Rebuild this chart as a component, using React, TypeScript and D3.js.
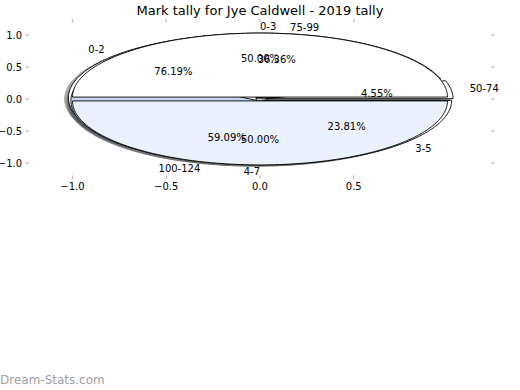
import React from "react";
import * as d3 from "d3";

// ---- data ----
const pie1Labels = ["0-2", "3-5"];
const pie1Values = [76.19, 23.81];
const pie2Labels = ["50-74", "75-99", "100-124"];
const pie2Values = [4.55, 36.36, 59.09];
const pie3Labels = ["0-3", "4-7"];
const pie3Values = [50, 50];
const xTicks = [-1, -0.5, 0, 0.5];
const yTicks = [1, 0.5, 0, -0.5, -1];
const titleText = "Mark tally for Jye Caldwell - 2019 tally";
const watermark = "Dream-Stats.com";

// ---- styles ----
const pie1Colors = ["#ffffff", "#ffffff"];
const pie2Colors = ["#ffffff", "#ffffff", "#c8d8f4"];
const pie3Colors = ["#ffffff", "#eaf0fc"];
const EXPLODE = 0.03;
const SHADOW = -0.02;
const W = 520;
const H = 390;
const FONT = "DejaVu Sans, sans-serif";

const x = d3.scaleLinear().domain([-1.25, 1.25]).range([25.625, 494.375]);
const y = d3.scaleLinear().domain([-1.25, 1.25]).range([179, 19]);

type Wedge = {
  label: string;
  pct: string;
  t1: number;
  t2: number;
  cx: number;
  cy: number;
  mid: number;
  color: string;
};

function buildPie(labels: string[], values: number[], colors: string[]): Wedge[] {
  const total = d3.sum(values);
  let acc = 0;
  return values.map((v, i) => {
    const t1 = (acc / total) * 360;
    acc += v;
    const t2 = (acc / total) * 360;
    const mid = ((t1 + t2) / 2) * (Math.PI / 180);
    return {
      label: labels[i],
      pct: ((v / total) * 100).toFixed(2) + "%",
      t1,
      t2,
      cx: EXPLODE * Math.cos(mid),
      cy: EXPLODE * Math.sin(mid),
      mid,
      color: colors[i],
    };
  });
}

const pies = [
  buildPie(pie1Labels, pie1Values, pie1Colors),
  buildPie(pie2Labels, pie2Values, pie2Colors),
  buildPie(pie3Labels, pie3Values, pie3Colors),
];
const allWedges = pies.flat();

const line = d3
  .line<[number, number]>()
  .x((d) => x(d[0]))
  .y((d) => y(d[1]));

function wedgePath(w: Wedge, dx = 0, dy = 0): string {
  const n = Math.max(8, Math.ceil((w.t2 - w.t1) / 1.5));
  const pts: [number, number][] = [[w.cx + dx, w.cy + dy]];
  for (let k = 0; k <= n; k++) {
    const t = ((w.t1 + ((w.t2 - w.t1) * k) / n) * Math.PI) / 180;
    pts.push([w.cx + dx + Math.cos(t), w.cy + dy + Math.sin(t)]);
  }
  return (line(pts) || "") + "Z";
}

function shade(c: string): string {
  const rgb = d3.rgb(c);
  return d3.rgb(rgb.r * 0.3, rgb.g * 0.3, rgb.b * 0.3).formatHex();
}

const fmt = (v: number) => (v < 0 ? "\u2212" : "") + Math.abs(v).toFixed(1);

export default function App() {
  const tickColor = "#c0c0c0";
  return (
    <svg
      width={W}
      height={H}
      style={{ position: "absolute", left: 0, top: 0, background: "#fff" }}
      fontFamily={FONT}
    >
      {/* ticks (inward, all four sides) */}
      {xTicks.map((t) => (
        <g key={"xt" + t}>
          <line x1={x(t)} x2={x(t)} y1={y(-1.25)} y2={y(-1.25) - 3.5} stroke={tickColor} strokeWidth={1.3} />
          <line x1={x(t)} x2={x(t)} y1={y(1.25)} y2={y(1.25) + 3.5} stroke={tickColor} strokeWidth={1.3} />
          <text x={x(t)} y={y(-1.25) + 11} fontSize={10} textAnchor="middle" fill="#000">
            {fmt(t)}
          </text>
        </g>
      ))}
      {yTicks.map((t) => (
        <g key={"yt" + t}>
          <line x1={x(-1.25)} x2={x(-1.25) + 3.5} y1={y(t)} y2={y(t)} stroke={tickColor} strokeWidth={1.3} />
          <line x1={x(1.25)} x2={x(1.25) - 3.5} y1={y(t)} y2={y(t)} stroke={tickColor} strokeWidth={1.3} />
          <text x={x(-1.25) - 3.5} y={y(t)} dy="0.36em" fontSize={10} textAnchor="end" fill="#000">
            {fmt(t)}
          </text>
        </g>
      ))}

      {/* shadows (drawn beneath all wedges) */}
      {allWedges.map((w, i) => (
        <path
          key={"s" + i}
          d={wedgePath(w, SHADOW, SHADOW)}
          fill={shade(w.color)}
          stroke={shade(w.color)}
          strokeWidth={1}
          opacity={0.5}
        />
      ))}

      {/* wedges */}
      {allWedges.map((w, i) => (
        <path key={"w" + i} d={wedgePath(w)} fill={w.color} stroke="#000" strokeWidth={0.9} />
      ))}

      {/* labels */}
      {allWedges.map((w, i) => {
        const lx = w.cx + 1.1 * Math.cos(w.mid);
        const ly = w.cy + 1.1 * Math.sin(w.mid);
        const px = w.cx + 0.6 * Math.cos(w.mid);
        const py = w.cy + 0.6 * Math.sin(w.mid);
        return (
          <g key={"l" + i}>
            <text x={x(lx)} y={y(ly)} dy="0.36em" fontSize={10} textAnchor={lx > 0 ? "start" : "end"} fill="#000">
              {w.label}
            </text>
            <text x={x(px)} y={y(py)} dy="0.36em" fontSize={10} textAnchor="middle" fill="#000">
              {w.pct}
            </text>
          </g>
        );
      })}

      <text x={W / 2} y={14.5} fontSize={13} textAnchor="middle" fill="#000">
        {titleText}
      </text>
      <text x={0} y={384} fontSize={12} fill="#a0a0a0">
        {watermark}
      </text>
    </svg>
  );
}
